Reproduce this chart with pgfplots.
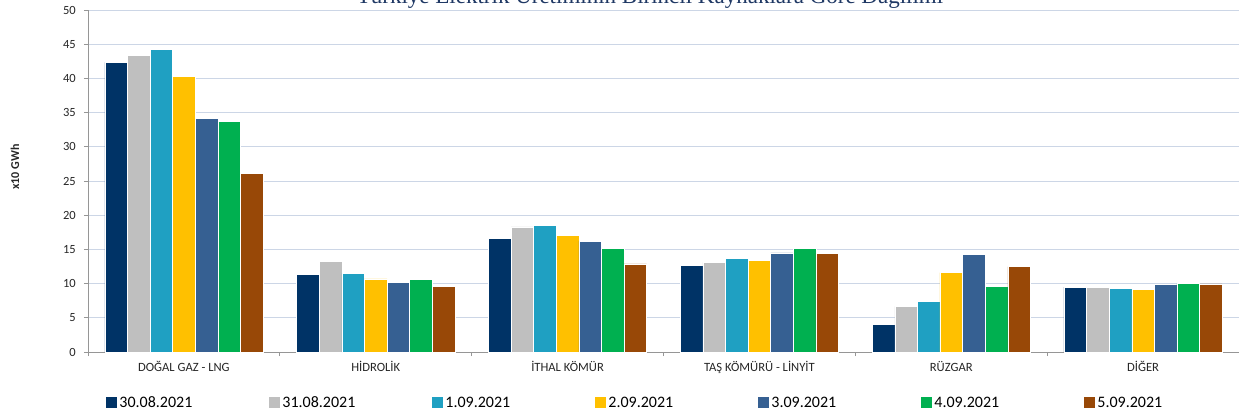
\documentclass[border=0pt]{standalone}
\usepackage{pgfplots}
\pgfplotsset{compat=1.18}
\usepackage{fontspec}
\setmainfont{Carlito}
\newfontfamily\titlefont{Liberation Serif}

\definecolor{cA}{RGB}{0,51,102}
\definecolor{cB}{RGB}{191,191,191}
\definecolor{cC}{RGB}{31,160,194}
\definecolor{cD}{RGB}{255,192,0}
\definecolor{cE}{RGB}{54,96,146}
\definecolor{cF}{RGB}{0,176,80}
\definecolor{cG}{RGB}{152,72,7}
\definecolor{gridc}{RGB}{204,214,230}
\definecolor{axisc}{RGB}{150,150,150}
\definecolor{titlec}{RGB}{31,56,100}

\begin{document}
\begin{tikzpicture}
\begin{axis}[
    name=main,
    scale only axis,
    width=1151bp, height=342bp,
    ybar=0pt,
    bar width=22.6bp,
    xmin=-0.5, xmax=5.5,
    ymin=0, ymax=50,
    ytick={0,5,...,50},
    xtick={-0.5,0.5,...,5.5},
    xticklabels={},
    extra x ticks={0,...,5},
    extra x tick labels={DOĞAL GAZ - LNG, HİDROLİK, İTHAL KÖMÜR, TAŞ KÖMÜRÜ - LİNYİT, RÜZGAR, DİĞER},
    extra x tick style={major tick length=0pt, grid=none},
    tick align=outside,
    major tick length=4bp,
    axis lines*=left,
    axis line style={draw=axisc, line width=0.9bp},
    tick style={draw=axisc, line width=0.8bp},
    ymajorgrids,
    grid style={draw=gridc, line width=0.9bp},
    /pgf/number format/assume math mode=true,
    yticklabel style={font=\fontsize{12.5bp}{14bp}\selectfont, text=black!85, inner sep=0pt, xshift=-8bp},
    xticklabel style={font=\fontsize{12.6bp}{14bp}\selectfont, text=black!85, inner sep=0pt, yshift=-9bp},
    every axis plot/.append style={draw=white, line width=0.5bp},
    legend columns=7,
    legend image code/.code={\fill[#1,draw=none] (0bp,-5.5bp) rectangle (11bp,5.5bp);},
    legend style={
        at={(axis description cs:0.0156,-0.149)}, anchor=west,
        draw=none, fill=none, inner sep=0pt, outer sep=0pt,
        font=\fontsize{16bp}{18bp}\selectfont,
        nodes={inner sep=0pt, text width=152bp, align=left, anchor=west},
    },
]
\addplot[fill=cA] coordinates {(0,42.35) (1,11.37) (2,16.6) (3,12.7) (4,4.05) (5,9.5)};
\addplot[fill=cB] coordinates {(0,43.4) (1,13.2) (2,18.3) (3,13.1) (4,6.68) (5,9.4)};
\addplot[fill=cC] coordinates {(0,44.25) (1,11.5) (2,18.5) (3,13.65) (4,7.4) (5,9.3)};
\addplot[fill=cD] coordinates {(0,40.35) (1,10.7) (2,17.0) (3,13.4) (4,11.6) (5,9.2)};
\addplot[fill=cE] coordinates {(0,34.2) (1,10.2) (2,16.2) (3,14.5) (4,14.3) (5,9.85)};
\addplot[fill=cF] coordinates {(0,33.7) (1,10.6) (2,15.2) (3,15.1) (4,9.6) (5,10.05)};
\addplot[fill=cG] coordinates {(0,26.1) (1,9.6) (2,12.9) (3,14.45) (4,12.5) (5,9.95)};
\legend{\hspace*{2.5bp}30.08.2021,\hspace*{2.5bp}31.08.2021,\hspace*{2.5bp}1.09.2021,\hspace*{2.5bp}2.09.2021,\hspace*{2.5bp}3.09.2021,\hspace*{2.5bp}4.09.2021,\hspace*{2.5bp}5.09.2021}
\end{axis}
\node[anchor=base, text=titlec, font=\titlefont\fontsize{23bp}{26bp}\selectfont, inner sep=0pt]
    at (562bp,348bp) {Türkiye Elektrik Üretiminin Birincil Kaynaklara Göre Dağılımı};
\node[rotate=90, font=\bfseries\fontsize{12bp}{14bp}\selectfont, text=black!85, inner sep=0pt]
    at (-73bp,185bp) {x10 GWh};
\pgfresetboundingbox
\path[use as bounding box] (-88bp,-65bp) rectangle (1151bp,352bp);
\end{tikzpicture}
\end{document}
